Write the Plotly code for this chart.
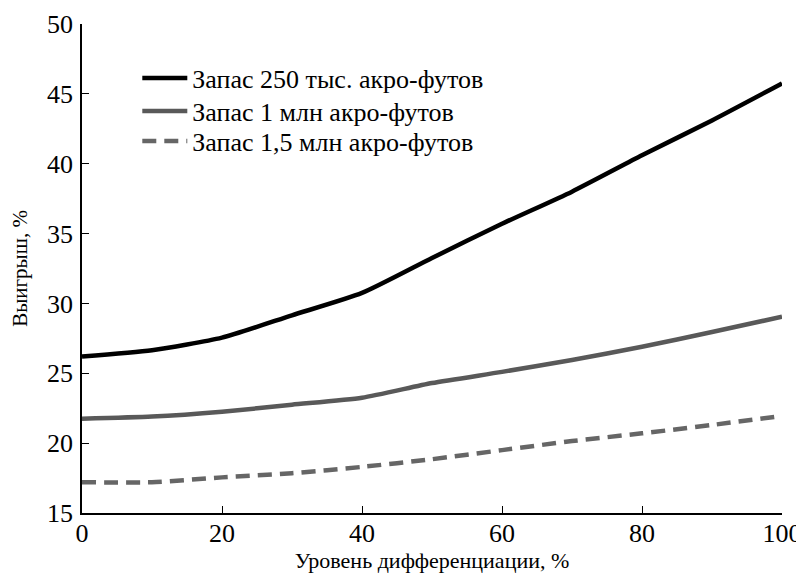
import plotly.graph_objects as go

# --- data ---
x_level = [0, 10, 20, 30, 40, 50, 60, 70, 80, 90, 100]
gain_250k = [26.2, 26.65, 27.55, 29.15, 30.75, 33.25, 35.7, 38.0, 40.6, 43.1, 45.75]
gain_1m = [21.75, 21.9, 22.25, 22.75, 23.25, 24.3, 25.1, 25.95, 26.9, 27.95, 29.05]
gain_15m = [17.2, 17.2, 17.55, 17.85, 18.3, 18.85, 19.5, 20.15, 20.7, 21.3, 21.95]

names = ["Запас 250 тыс. акро-футов", "Запас 1 млн акро-футов", "Запас 1,5 млн акро-футов"]
x_ticks = [0, 20, 40, 60, 80, 100]
y_ticks = [15, 20, 25, 30, 35, 40, 45, 50]

serif = "Liberation Serif, Times New Roman, serif"

fig = go.Figure()
fig.add_trace(go.Scatter(x=x_level, y=gain_250k, mode="lines", name=names[0], legend="legend",
                         line=dict(width=4.5, color="black", shape="spline", smoothing=0.6)))
fig.add_trace(go.Scatter(x=x_level, y=gain_1m, mode="lines", name=names[1], legend="legend2",
                         line=dict(width=4.5, color="#595959", shape="spline", smoothing=0.6)))
fig.add_trace(go.Scatter(x=x_level, y=gain_15m, mode="lines", name=names[2], legend="legend3",
                         line=dict(width=4.5, color="#666666", dash="14px,8px", shape="spline", smoothing=0.6)))

axis_style = dict(showline=True, linecolor="black", linewidth=1.5, showgrid=False, zeroline=False,
                  ticks="inside", ticklen=7, tickwidth=1.2, tickcolor="black", automargin=False,
                  tickfont=dict(family=serif, size=26, color="black"))

fig.update_xaxes(range=[0, 100], tickvals=x_ticks, **axis_style, ticklabelstandoff=-4,
                 title=dict(text="Уровень дифференциации, %", font=dict(family=serif, size=22, color="black"),
                            standoff=6))
fig.update_yaxes(range=[15, 50], tickvals=y_ticks, **axis_style, ticklabelstandoff=2,
                 title=dict(text="Выигрыш, %", font=dict(family=serif, size=21, color="black"),
                            standoff=14))

leg = dict(x=0.079, xanchor="left", yanchor="middle", itemwidth=45,
           font=dict(family=serif, size=26, color="black"), bgcolor="rgba(0,0,0,0)")

# page body has an 8px margin, so the figure is 796x570 and margins are shifted accordingly
fig.update_layout(
    width=796, height=570,
    margin=dict(l=74, r=22, t=16, b=65),
    plot_bgcolor="white", paper_bgcolor="white",
    font=dict(family=serif, color="black"),
    legend=dict(leg, y=0.8896),
    legend2=dict(leg, y=0.822),
    legend3=dict(leg, y=0.7607),
    showlegend=True,
)

fig.write_html("out.html")
